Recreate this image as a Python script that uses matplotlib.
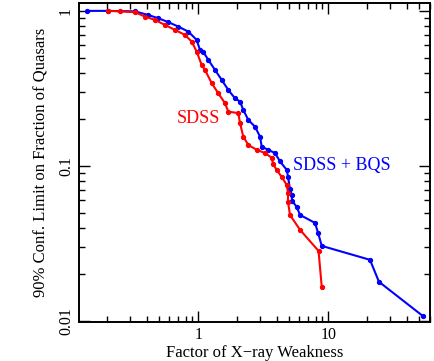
import matplotlib
matplotlib.use("Agg")
import matplotlib.pyplot as plt
from matplotlib.ticker import LogLocator, FixedLocator, FixedFormatter, NullFormatter

# SDSS + BQS (blue)
bqs_x = [0.139, 0.202, 0.326, 0.410, 0.492, 0.588, 0.702, 0.838, 0.972, 1.03, 1.093,
         1.194, 1.345, 1.514, 1.701, 1.916, 2.094, 2.219, 2.424, 2.731, 2.984, 3.075,
         3.455, 3.89, 4.25, 4.79, 4.90, 5.07, 5.23, 5.26, 5.71, 6.06, 7.90, 8.34, 8.90,
         20.9, 24.5, 53.8]
bqs_y = [1.0, 1.0, 0.993, 0.942, 0.897, 0.846, 0.792, 0.735, 0.650, 0.560, 0.544,
         0.483, 0.416, 0.359, 0.309, 0.273, 0.260, 0.230, 0.198, 0.179, 0.1545, 0.133,
         0.127, 0.121, 0.107, 0.0942, 0.0849, 0.0711, 0.0650, 0.0597, 0.0544, 0.0483,
         0.0429, 0.0370, 0.0305, 0.0248, 0.0179, 0.0107]

# SDSS (red)
sdss_x = [0.202, 0.250, 0.326, 0.389, 0.464, 0.554, 0.662, 0.790, 0.890, 0.972, 1.062,
          1.126, 1.268, 1.425, 1.605, 1.701, 2.031, 2.094, 2.219, 2.424, 2.814, 3.260,
          3.67, 3.76, 4.01, 4.38, 4.79, 4.90, 4.90, 5.07, 6.06, 8.41, 8.90]
sdss_y = [1.0, 0.993, 0.981, 0.919, 0.875, 0.812, 0.754, 0.700, 0.634, 0.546, 0.448,
          0.416, 0.342, 0.294, 0.254, 0.224, 0.219, 0.189, 0.1545, 0.1366, 0.127, 0.121,
          0.113, 0.103, 0.0942, 0.0849, 0.0754, 0.0670, 0.0586, 0.0483, 0.0387, 0.0283,
          0.0166]

x_ticks = [1, 10]
x_tick_labels = ["1", "10"]
y_ticks = [0.01, 0.1, 1]
y_tick_labels = ["0.01", "0.1", "1"]

plt.rcParams['font.family'] = ['Liberation Serif', 'DejaVu Serif']

fig = plt.figure(figsize=(4.34, 3.61), dpi=100)
ax = fig.add_axes([0.182, 0.109, 0.809, 0.882])

ax.plot(bqs_x, bqs_y, color='#0000ff', lw=1.5, marker='o', ms=2.8, mec='#0000ff', mfc='#0000ff')
ax.plot(sdss_x, sdss_y, color='#ff0000', lw=1.5, marker='o', ms=2.8, mec='#ff0000', mfc='#ff0000')

ax.set_xscale('log')
ax.set_yscale('log')
ax.set_xlim(0.121, 60.6)
ax.set_ylim(0.0099, 1.12)

ax.xaxis.set_major_locator(FixedLocator(x_ticks))
ax.xaxis.set_major_formatter(FixedFormatter(x_tick_labels))
ax.yaxis.set_major_locator(FixedLocator(y_ticks))
ax.yaxis.set_major_formatter(FixedFormatter(y_tick_labels))
ax.xaxis.set_minor_locator(LogLocator(base=10, subs=range(2, 10), numticks=20))
ax.yaxis.set_minor_locator(LogLocator(base=10, subs=range(2, 10), numticks=20))
ax.xaxis.set_minor_formatter(NullFormatter())
ax.yaxis.set_minor_formatter(NullFormatter())

ax.tick_params(which='both', direction='in', top=True, right=True, width=1.0, labelsize=11.5)
ax.tick_params(which='major', length=8)
ax.tick_params(which='minor', length=4)
for lab in ax.get_yticklabels():
    lab.set_rotation(90)
    lab.set_va('center')
for s in ax.spines.values():
    s.set_linewidth(1.4)

ax.set_xlabel("Factor of X\u2212ray Weakness", fontsize=12, labelpad=2)
ax.set_ylabel("90% Conf. Limit on Fraction of Quasars", fontsize=12, labelpad=6)

ax.text(0.682, 0.201, "SDSS", color='#ff0000', fontsize=13, ha='left', va='center')
ax.text(5.38, 0.100, "SDSS + BQS", color='#0000ff', fontsize=13, ha='left', va='center')

fig.savefig("out.png", dpi=100)
